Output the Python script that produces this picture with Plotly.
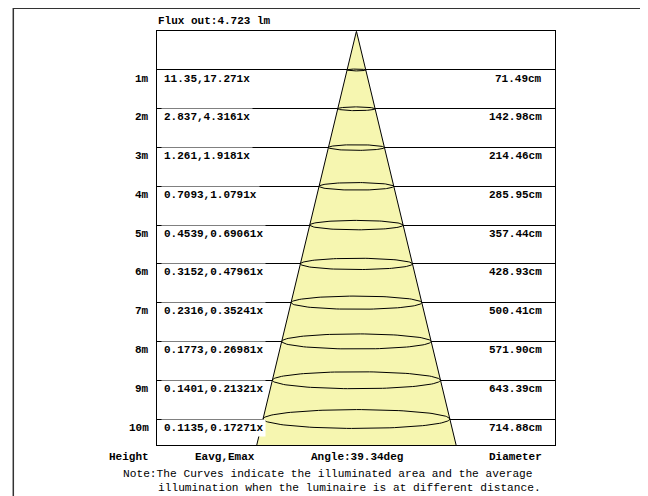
import numpy as np
import plotly.graph_objects as go

# ---- data ----
heights = [1, 2, 3, 4, 5, 6, 7, 8, 9, 10]
height_labels = ["1m", "2m", "3m", "4m", "5m", "6m", "7m", "8m", "9m", "10m"]
eavg_emax = ["11.35,17.271x", "2.837,4.3161x", "1.261,1.9181x", "0.7093,1.0791x",
             "0.4539,0.69061x", "0.3152,0.47961x", "0.2316,0.35241x", "0.1773,0.26981x",
             "0.1401,0.21321x", "0.1135,0.17271x"]
diameters_cm = [71.49, 142.98, 214.46, 285.95, 357.44, 428.93, 500.41, 571.90, 643.39, 714.88]
diameter_labels = ["71.49cm", "142.98cm", "214.46cm", "285.95cm", "357.44cm",
                   "428.93cm", "500.41cm", "571.90cm", "643.39cm", "714.88cm"]
beam_angle_deg = 39.34
flux_lm = "4.723"

# ---- layout constants ----
OFF = 8  # page body margin
W, H = 648 - OFF, 496 - OFF
depth_max = 10.67
box_l, box_r, box_t, box_b = 157.3, 555.3, 31.2, 445.0
x_range = [-7.62, 7.61]
ell_ratio = 0.068
FONT = "Liberation Mono"
FILL = "#F6F6B0"


def px_x(p):
    return (p - OFF) / W


def px_y(p):
    return 1 - (p - OFF) / H


fig = go.Figure()

# cone
half_tan = np.tan(np.radians(beam_angle_deg / 2))
R = half_tan * depth_max
fig.add_trace(go.Scatter(x=[-R, 0, R], y=[depth_max, 0, depth_max], mode="lines",
                         fill="toself", fillcolor=FILL,
                         line=dict(color="black", width=1), hoverinfo="skip"))

# ellipses
t = np.linspace(0, 2 * np.pi, 121)
for h, d in zip(heights, diameters_cm):
    r = d / 200.0
    fig.add_trace(go.Scatter(x=r * np.cos(t), y=h + ell_ratio * r * np.sin(t), mode="lines",
                             line=dict(color="black", width=1), hoverinfo="skip"))

bold = dict(family=FONT, size=11, color="black", weight="bold")
ann = []
for h, hl, e, dl in zip(heights, height_labels, eavg_emax, diameter_labels):
    yy = h + 0.22
    ann.append(dict(x=px_x(151), y=yy, xref="paper", yref="y", text=hl, showarrow=False,
                    xanchor="right", yanchor="middle", font=bold))
    ann.append(dict(x=px_x(161), y=yy, xref="paper", yref="y", text=e, showarrow=False,
                    xanchor="left", yanchor="middle", font=bold, bgcolor="white", borderpad=2))
    ann.append(dict(x=px_x(544), y=yy, xref="paper", yref="y", text=dl, showarrow=False,
                    xanchor="right", yanchor="middle", font=bold))

ann.append(dict(x=px_x(156), y=px_y(21), xref="paper", yref="paper",
                text="Flux out:" + flux_lm + " lm", showarrow=False,
                xanchor="left", yanchor="middle", font=bold))
ann.append(dict(x=px_x(151), y=px_y(457), xref="paper", yref="paper", text="Height",
                showarrow=False, xanchor="right", yanchor="middle", font=bold))
ann.append(dict(x=px_x(225), y=px_y(457), xref="paper", yref="paper", text="Eavg,Emax",
                showarrow=False, xanchor="center", yanchor="middle", font=bold))
ann.append(dict(x=px_x(357), y=px_y(457), xref="paper", yref="paper",
                text="Angle:%.2fdeg" % beam_angle_deg,
                showarrow=False, xanchor="center", yanchor="middle", font=bold))
ann.append(dict(x=px_x(544), y=px_y(457), xref="paper", yref="paper", text="Diameter",
                showarrow=False, xanchor="right", yanchor="middle", font=bold))
reg = dict(family=FONT, size=11.2, color="black")
ann.append(dict(x=px_x(121), y=px_y(474), xref="paper", yref="paper",
                text="Note:The Curves indicate the illuminated area and the average",
                showarrow=False, xanchor="left", yanchor="middle", font=reg))
ann.append(dict(x=px_x(155.5), y=px_y(487.5), xref="paper", yref="paper",
                text="illumination when the luminaire is at different distance.",
                showarrow=False, xanchor="left", yanchor="middle", font=reg))

shapes = [dict(type="rect", xref="paper", yref="paper",
               x0=px_x(13.3), x1=px_x(642.7), y0=px_y(510), y1=px_y(8.3),
               line=dict(color="#333333", width=1.5), layer="below")]

fig.update_layout(
    width=W, height=H, margin=dict(l=0, r=0, t=0, b=0),
    paper_bgcolor="white", plot_bgcolor="white", showlegend=False,
    xaxis=dict(domain=[px_x(box_l), px_x(box_r)], range=x_range, showgrid=False,
               zeroline=False, showticklabels=False, ticks="", showline=True,
               mirror=True, linecolor="black", linewidth=1, fixedrange=True),
    yaxis=dict(domain=[px_y(box_b), px_y(box_t)], range=[depth_max, 0],
               tickvals=heights, showgrid=True, gridcolor="black", gridwidth=1,
               zeroline=False, showticklabels=False, ticks="", showline=True,
               mirror=True, linecolor="black", linewidth=1, fixedrange=True),
    annotations=ann, shapes=shapes,
)

fig.write_html("out.html")
